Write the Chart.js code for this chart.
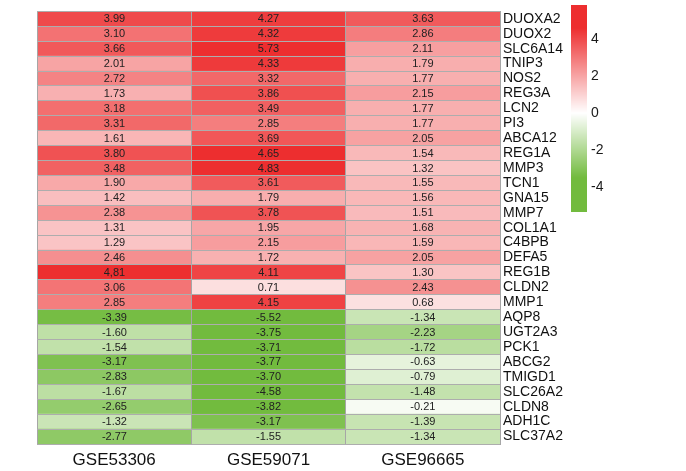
<!DOCTYPE html>
<html>
<head>
<meta charset="utf-8">
<script src="https://cdn.jsdelivr.net/npm/chart.js@4.4.0/dist/chart.umd.min.js"></script>
<style>
  html, body { margin: 0; padding: 0; background: #fff; }
  #wrap { width: 686px; height: 471px; }
</style>
</head>
<body>
<div id="wrap"><canvas id="chart" width="686" height="471"></canvas></div>
<script>
const genes = ['DUOXA2', 'DUOX2', 'SLC6A14', 'TNIP3', 'NOS2', 'REG3A', 'LCN2', 'PI3', 'ABCA12', 'REG1A',
  'MMP3', 'TCN1', 'GNA15', 'MMP7', 'COL1A1', 'C4BPB', 'DEFA5', 'REG1B', 'CLDN2', 'MMP1',
  'AQP8', 'UGT2A3', 'PCK1', 'ABCG2', 'TMIGD1', 'SLC26A2', 'CLDN8', 'ADH1C', 'SLC37A2']
const studies = ['GSE53306', 'GSE59071', 'GSE96665']

const gse53306 = [3.99, 3.10, 3.66, 2.01, 2.72, 1.73, 3.18, 3.31, 1.61, 3.80,
  3.48, 1.90, 1.42, 2.38, 1.31, 1.29, 2.46, 4.81, 3.06, 2.85,
  -3.39, -1.60, -1.54, -3.17, -2.83, -1.67, -2.65, -1.32, -2.77]
const gse59071 = [4.27, 4.32, 5.73, 4.33, 3.32, 3.86, 3.49, 2.85, 3.69, 4.65,
  4.83, 3.61, 1.79, 3.78, 1.95, 2.15, 1.72, 4.11, 0.71, 4.15,
  -5.52, -3.75, -3.71, -3.77, -3.70, -4.58, -3.82, -3.17, -1.55]
const gse96665 = [3.63, 2.86, 2.11, 1.79, 1.77, 2.15, 1.77, 1.77, 2.05, 1.54,
  1.32, 1.55, 1.56, 1.51, 1.68, 1.59, 2.05, 1.30, 2.43, 0.68,
  -1.34, -2.23, -1.72, -0.63, -0.79, -1.48, -0.21, -1.39, -1.34]
const columns = [gse53306, gse59071, gse96665]

// the figure prints this one cell with a comma
const textFix = { 'GSE53306|REG1B': '4,81' }

const legendTicks = [4, 2, 0, -2, -4]
const legendRange = [-5.35, 5.84]

// colour ramp: green -> white -> red, saturating
const RED = [237, 46, 47]
const GREEN = [114, 187, 62]
function cellColor(v) {
  let end, t
  if (v >= 0) { end = RED; t = Math.min(v / 4.6, 1) }
  else { end = GREEN; t = Math.min(-v / 3.5, 1) }
  const c = end.map(e => Math.round(255 + (e - 255) * t))
  return `rgb(${c[0]},${c[1]},${c[2]})`
}

const cellText = {
  id: 'cellText',
  afterDraw(chart) {
    const ctx = chart.ctx
    ctx.save()
    ctx.font = '11px "Liberation Sans", Arial, sans-serif'
    ctx.fillStyle = '#222'
    ctx.textAlign = 'center'
    ctx.textBaseline = 'middle'
    chart.data.datasets.forEach((ds, di) => {
      chart.getDatasetMeta(di).data.forEach((bar, i) => {
        const key = studies[di] + '|' + genes[i]
        const txt = textFix[key] || columns[di][i].toFixed(2)
        const cx = (bar.x + bar.base) / 2
        ctx.fillText(txt, cx, bar.y + 0.5)
      })
    })
    ctx.restore()
  }
}

const colorBar = {
  id: 'colorBar',
  afterDraw(chart) {
    const ctx = chart.ctx
    const x = 571, w = 16, top = 5, bottom = 212
    const [lo, hi] = legendRange
    const toY = v => top + (hi - v) / (hi - lo) * (bottom - top)
    ctx.save()
    for (let y = top; y < bottom; y++) {
      const v = hi - (y + 0.5 - top) / (bottom - top) * (hi - lo)
      ctx.fillStyle = cellColor(v)
      ctx.fillRect(x, y, w, 1)
    }
    ctx.font = '14px "Liberation Sans", Arial, sans-serif'
    ctx.fillStyle = '#1a1a1a'
    ctx.textAlign = 'left'
    ctx.textBaseline = 'middle'
    legendTicks.forEach(t => ctx.fillText(String(t), 591, toY(t)))
    ctx.restore()
  }
}

new Chart(document.getElementById('chart'), {
  type: 'bar',
  data: {
    labels: genes,
    datasets: columns.map((vals, c) => ({
      label: studies[c],
      data: vals.map(() => [c, c + 1]),
      backgroundColor: vals.map(cellColor),
      borderWidth: 0,
      xAxisID: 'x',
      barPercentage: 1,
      categoryPercentage: 1,
      grouped: false
    }))
  },
  options: {
    indexAxis: 'y',
    responsive: false,
    animation: false,
    devicePixelRatio: 1,
    layout: { padding: { left: 37, top: 7, right: 0, bottom: 0 } },
    plugins: { legend: { display: false }, tooltip: { enabled: false } },
    scales: {
      x: {
        type: 'linear',
        position: 'bottom',
        min: 0,
        max: 3,
        ticks: { display: false, stepSize: 1 },
        grid: { color: '#a6a6a6', drawTicks: false, z: 1 },
        border: { color: '#a6a6a6', z: 1 },
        afterFit: s => { s.height = 0 }
      },
      xl: {
        type: 'category',
        position: 'bottom',
        labels: studies,
        offset: true,
        grid: { display: false, drawTicks: false },
        border: { display: false },
        ticks: {
          color: '#111',
          padding: 6,
          font: { family: '"Liberation Sans", Arial, sans-serif', size: 17 }
        },
        afterFit: s => { s.height = 27 }
      },
      y: {
        type: 'category',
        position: 'right',
        grid: { color: '#adadad', drawTicks: false, offset: true, z: 1 },
        border: { color: '#a6a6a6', z: 1 },
        ticks: {
          color: '#111',
          padding: 3,
          autoSkip: false,
          font: { family: '"Liberation Sans", Arial, sans-serif', size: 14 }
        },
        afterFit: s => { s.width = 186 }
      }
    }
  },
  plugins: [cellText, colorBar]
})
</script>
</body>
</html>
